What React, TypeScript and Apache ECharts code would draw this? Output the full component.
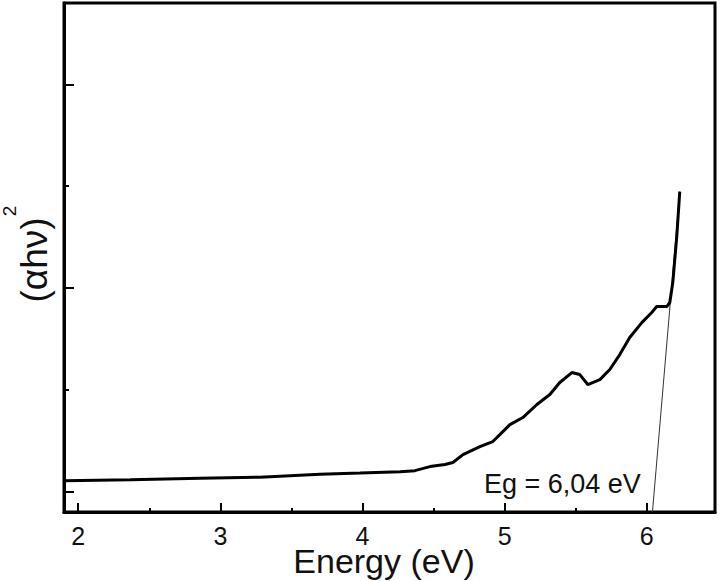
import React, { useEffect, useRef } from "react";
import * as echarts from "echarts";

// Photon energy (eV) and (αhν)² in arbitrary units
const energy = [
  1.902, 2.366, 2.858, 3.279, 3.701, 3.982, 4.264, 4.369, 4.475, 4.58, 4.636,
  4.707, 4.826, 4.917, 5.037, 5.128, 5.227, 5.318, 5.388, 5.473, 5.529, 5.585,
  5.67, 5.74, 5.81, 5.88, 5.965, 6.035, 6.07, 6.141, 6.162, 6.183, 6.211, 6.232,
];
const absorption = [
  0.054, 0.059, 0.066, 0.071, 0.086, 0.091, 0.098, 0.103, 0.123, 0.133, 0.143,
  0.182, 0.221, 0.246, 0.329, 0.364, 0.428, 0.477, 0.536, 0.585, 0.575, 0.526,
  0.55, 0.6, 0.673, 0.757, 0.83, 0.88, 0.909, 0.909, 0.929, 1.027, 1.253, 1.474,
];

// Linear extrapolation (Tauc fit) line
const fitEnergy = [6.04, 6.232];
const fitValue = [-0.1, 1.474];

const xMajorTicks = [2, 3, 4, 5, 6];
const xMinorTicks = [2.5, 3.5, 4.5, 5.5];
const yMajorTicks = [0, 1, 2];
const yMinorTicks = [0.5, 1.5];

const xTitle = "Energy (eV)";
const yTitle = "(αhν)";
const yTitleSup = "2";
const gapLabel = "Eg = 6,04 eV";

const FONT = "'Liberation Sans', Arial, sans-serif";

export default function App() {
  const ref = useRef<HTMLDivElement>(null);

  useEffect(() => {
    if (!ref.current) return;
    const chart = echarts.init(ref.current, null, { renderer: "svg" });
    const xBase = { type: "value", min: 1.9, max: 6.48, position: "bottom", splitLine: { show: false } };
    const yBase = { type: "value", min: -0.1, max: 2.4, position: "left", splitLine: { show: false } };
    chart.setOption({
      animation: false,
      backgroundColor: "#ffffff",
      grid: {
        show: true,
        left: 64,
        right: 5,
        top: 3,
        bottom: 69,
        borderColor: "#000",
        borderWidth: 3,
        containLabel: false,
        outerBoundsMode: "none",
      },
      xAxis: [
        {
          ...xBase,
          axisLine: { show: true, onZero: false, lineStyle: { color: "#000", width: 3 } },
          axisTick: { show: true, inside: true, length: 9, lineStyle: { color: "#000", width: 2 }, customValues: xMajorTicks },
          axisLabel: {
            show: true,
            customValues: xMajorTicks,
            color: "#111",
            fontSize: 25,
            lineHeight: 20,
            fontFamily: FONT,
            margin: 14,
          },
        },
        {
          ...xBase,
          axisLine: { show: false, onZero: false },
          axisTick: { show: true, inside: true, length: 4, lineStyle: { color: "#000", width: 2 }, customValues: xMinorTicks },
          axisLabel: { show: false },
        },
      ],
      yAxis: [
        {
          ...yBase,
          axisLine: { show: true, onZero: false, lineStyle: { color: "#000", width: 3 } },
          axisTick: { show: true, inside: true, length: 10, lineStyle: { color: "#000", width: 2 }, customValues: yMajorTicks },
          axisLabel: { show: false },
        },
        {
          ...yBase,
          axisLine: { show: false, onZero: false },
          axisTick: { show: true, inside: true, length: 5, lineStyle: { color: "#000", width: 2 }, customValues: yMinorTicks },
          axisLabel: { show: false },
        },
      ],
      series: [
        {
          type: "line",
          xAxisIndex: 0,
          yAxisIndex: 0,
          data: energy.map((e, i) => [e, absorption[i]]),
          showSymbol: false,
          symbol: "none",
          lineStyle: { color: "#000", width: 3 },
          clip: true,
          z: 3,
        },
        {
          type: "line",
          xAxisIndex: 0,
          yAxisIndex: 0,
          data: fitEnergy.map((e, i) => [e, fitValue[i]]),
          showSymbol: false,
          symbol: "none",
          lineStyle: { color: "#333", width: 1 },
          clip: true,
          z: 2,
        },
      ],
      graphic: [
        {
          type: "text",
          x: 384,
          y: 561,
          style: {
            text: xTitle,
            font: `34px ${FONT}`,
            lineHeight: 26,
            fill: "#111",
            align: "center",
            verticalAlign: "middle",
          },
        },
        {
          type: "text",
          x: 34,
          y: 260,
          rotation: Math.PI / 2,
          style: {
            text: yTitle,
            font: `37px ${FONT}`,
            fill: "#111",
            align: "center",
            verticalAlign: "middle",
          },
        },
        {
          type: "text",
          x: 9,
          y: 211,
          rotation: Math.PI / 2,
          style: {
            text: yTitleSup,
            font: `19px ${FONT}`,
            fill: "#111",
            align: "center",
            verticalAlign: "middle",
          },
        },
        {
          type: "text",
          x: 484,
          y: 484,
          style: {
            text: gapLabel,
            font: `27px ${FONT}`,
            fill: "#111",
            align: "left",
            verticalAlign: "middle",
          },
        },
      ],
    });
    return () => chart.dispose();
  }, []);

  return (
    <div
      ref={ref}
      style={{ position: "fixed", left: 0, top: 0, width: 720, height: 581, background: "#fff" }}
    />
  );
}
